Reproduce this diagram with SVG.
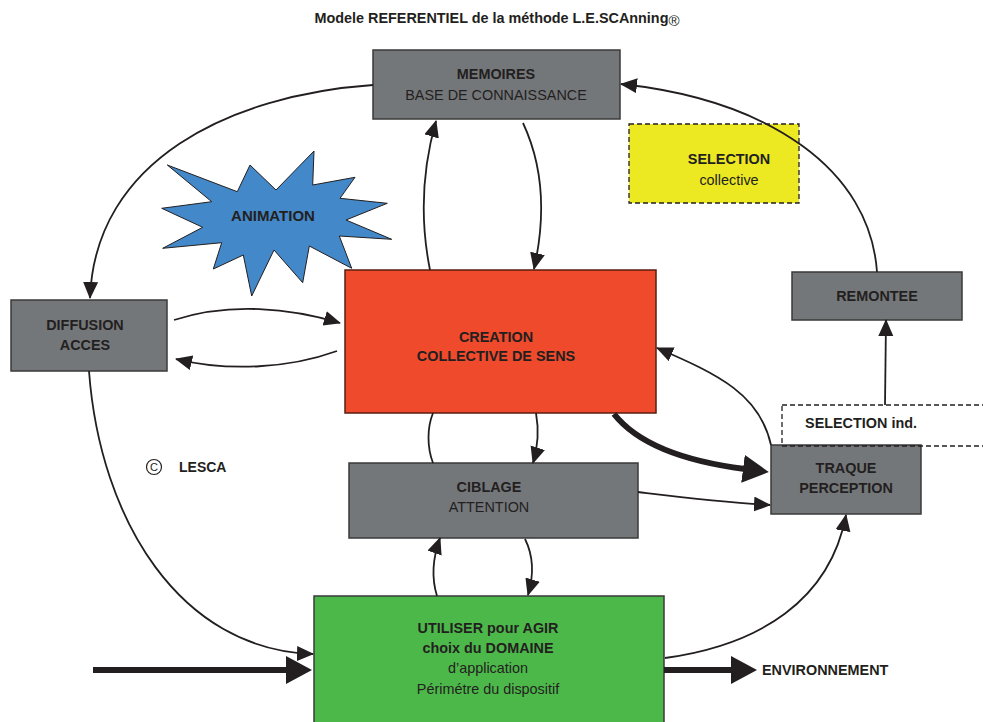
<svg xmlns="http://www.w3.org/2000/svg" width="983" height="722" viewBox="0 0 983 722">
<defs>
<style>
.t{font-family:"Liberation Sans","DejaVu Sans",sans-serif;fill:#231f20;text-anchor:middle;font-size:14.4px}
.b{font-weight:bold}
.box{stroke:#3a3a3a;stroke-width:1.5}
.gray{fill:#74777a}
.ln{fill:none;stroke:#231f20;stroke-width:1.8}
.thick{fill:none;stroke:#231f20;stroke-width:6}
</style>
<marker id="ah" markerUnits="userSpaceOnUse" markerWidth="18" markerHeight="16" refX="16" refY="7.5" orient="auto">
<path d="M0,0 L17,7.5 L0,15 z" fill="#231f20"/>
</marker>
<marker id="ahb" markerUnits="userSpaceOnUse" markerWidth="30" markerHeight="30" refX="2" refY="14" orient="auto">
<path d="M0,0 L26,14 L0,28 z" fill="#231f20"/>
</marker>
</defs>
<rect width="983" height="722" fill="#ffffff"/>

<text class="t b" x="497" y="23" style="font-size:14.4px">Modele REFERENTIEL de la méthode L.E.SCAnning<tspan font-weight="normal" style="font-size:15px" dy="3">®</tspan></text>

<g id="selection-collective">
<rect x="629" y="124" width="170" height="79" fill="#ece822" stroke="#231f20" stroke-width="1.3" stroke-dasharray="5,3"/>
<text class="t b" x="729" y="164">SELECTION</text>
<text class="t" x="729" y="185">collective</text>
</g>

<g id="memoires">
<rect class="box gray" x="373" y="50" width="247" height="69"/>
<text class="t b" x="496" y="79">MEMOIRES</text>
<text class="t" x="496" y="100">BASE DE CONNAISSANCE</text>
</g>

<g id="animation">
<polygon points="167.3,165 237.3,191.7 250,165 276,190 314,151 312.7,185 355,177.3 340,198.3 387.3,203.3 346,220 391.7,239.3 339.3,236 351.7,268.3 309.3,246 302.7,282.7 274,250 251.7,296 243.3,255 213.3,269 221.7,242.7 162.7,248.3 202.7,227.3 161.7,208.3 211.7,201.7" fill="#4388c8" stroke="#231f20" stroke-width="1"/>
<text class="t b" x="273" y="221" style="font-size:15px">ANIMATION</text>
</g>

<g id="diffusion">
<rect class="box gray" x="11" y="300" width="156" height="71"/>
<text class="t b" x="85" y="330">DIFFUSION</text>
<text class="t b" x="85" y="350">ACCES</text>
</g>

<g id="creation">
<rect x="345" y="270" width="311" height="143" fill="#ef4a2b" stroke="#5a1e12" stroke-width="1.5"/>
<text class="t b" x="496" y="342">CREATION</text>
<text class="t b" x="496" y="361">COLLECTIVE DE SENS</text>
</g>

<g id="remontee">
<rect class="box gray" x="792" y="272" width="170" height="48"/>
<text class="t b" x="877" y="301">REMONTEE</text>
</g>

<g id="traque">
<rect class="box gray" x="771" y="445" width="150" height="69"/>
<text class="t b" x="846" y="473">TRAQUE</text>
<text class="t b" x="846" y="493">PERCEPTION</text>
</g>

<g id="selection-ind">
<rect x="782" y="405" width="210" height="41" fill="#ffffff" fill-opacity="0" stroke="#231f20" stroke-width="1.3" stroke-dasharray="5,3"/>
<text class="t b" x="861" y="428">SELECTION ind.</text>
</g>

<g id="ciblage">
<rect class="box gray" x="349" y="463" width="289" height="75"/>
<text class="t b" x="489" y="492">CIBLAGE</text>
<text class="t" x="489" y="512">ATTENTION</text>
</g>

<g id="utiliser">
<rect x="314" y="596" width="350" height="130" fill="#4db84a" stroke="#3a3a3a" stroke-width="1.5"/>
<text class="t b" x="488" y="633">UTILISER pour AGIR</text>
<text class="t b" x="488" y="653">choix du DOMAINE</text>
<text class="t" x="488" y="673">d’application</text>
<text class="t" x="488" y="694">Périmétre du dispositif</text>
</g>

<g id="lesca">
<circle cx="154" cy="467" r="7.5" fill="none" stroke="#231f20" stroke-width="1.2"/>
<text class="t" x="154" y="471" style="font-size:11px">C</text>
<text class="t b" x="179" y="472" style="text-anchor:start;font-size:14px">LESCA</text>
</g>

<g id="environnement">
<text class="t b" x="762" y="675" style="text-anchor:start;font-size:14.4px">ENVIRONNEMENT</text>
</g>

<g id="connectors">
<path class="ln" d="M373,85 C230,95 95,160 90,298" marker-end="url(#ah)"/>
<path class="ln" d="M877,272 C870,170 770,100 621,84" marker-end="url(#ah)"/>
<path class="ln" d="M430,270 C420,220 422,170 436,121" marker-end="url(#ah)"/>
<path class="ln" d="M523,123 C545,170 545,220 534,269" marker-end="url(#ah)"/>
<path class="ln" d="M174,320 C230,302 290,308 340,323" marker-end="url(#ah)"/>
<path class="ln" d="M337,351 C290,368 230,372 176,359" marker-end="url(#ah)"/>
<path class="ln" d="M433,463 C427,447 427,428 433,413"/>
<path class="ln" d="M536,413 C539,430 538,447 533,463" marker-end="url(#ah)"/>
<path class="ln" d="M437,596 C432,580 432,560 440,538" marker-end="url(#ah)"/>
<path class="ln" d="M525,539 C533,555 534,575 528,595" marker-end="url(#ah)"/>
<path class="thick" d="M614,414 C640,447 690,462 745,469" marker-end="url(#ahb)"/>
<path class="ln" d="M771,445 C760,395 720,375 657,348" marker-end="url(#ah)"/>
<path class="ln" d="M638,492 C680,497 720,502 770,505" marker-end="url(#ah)"/>
<path class="ln" d="M885,405 L886,320" marker-end="url(#ah)"/>
<path class="ln" d="M665,658 C760,645 830,600 846,515" marker-end="url(#ah)"/>
<path class="ln" d="M89,371 C100,520 180,650 313,654" marker-end="url(#ah)"/>
<path class="thick" d="M93,670 L288,670" marker-end="url(#ahb)"/>
<path class="thick" d="M664,670 L733,670" marker-end="url(#ahb)"/>
</g>
</svg>
